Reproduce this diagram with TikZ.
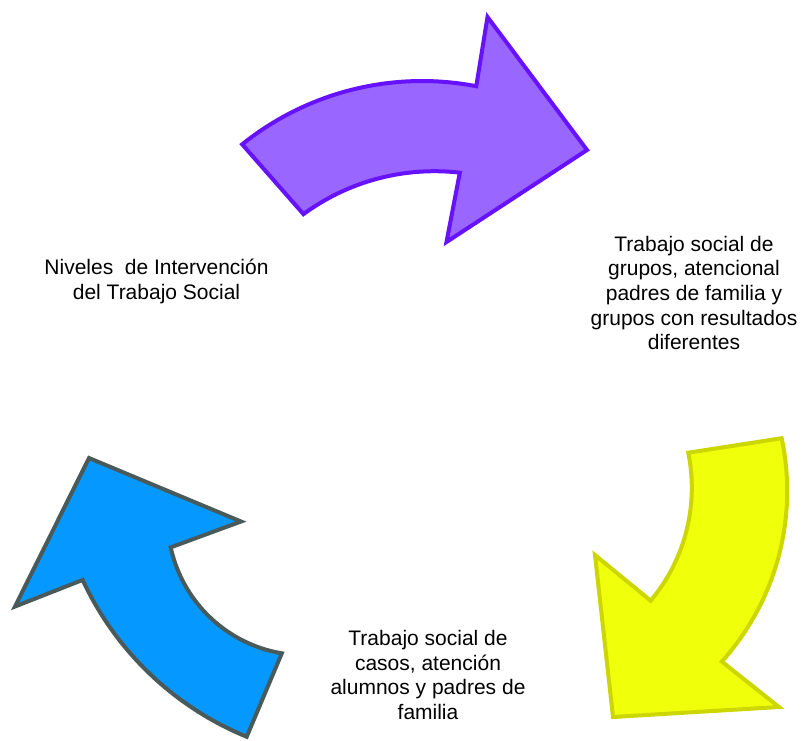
\documentclass[tikz,border=0pt]{standalone}
\usepackage{fontspec}
\setmainfont{Liberation Sans}
\definecolor{purfill}{HTML}{9966FF}
\definecolor{purline}{HTML}{6611FF}
\definecolor{yelfill}{HTML}{F0FF0A}
\definecolor{yelline}{HTML}{CCD600}
\definecolor{blufill}{HTML}{0599FF}
\definecolor{bluline}{HTML}{4A5A5A}
\tikzset{
  arrowshape/.style={line width=4pt, line join=miter, miter limit=10},
  lbl/.style={align=center, inner sep=0pt, font=\fontsize{21}{24.6}\selectfont, text=black}
}
\begin{document}
\begin{tikzpicture}[x=1pt,y=-1pt]
\useasboundingbox (0,0) rectangle (803,740);
% purple arrow (top)
\draw[arrowshape, fill=purfill, draw=purline]
  plot[domain=231.2:280.9, samples=40] ({422+287*cos(\x)}, {368+287*sin(\x)})
  -- (487.5,17) -- (587,150) -- (446.5,242)
  -- plot[domain=276.6:233.7, samples=40] ({434.4+221.2*cos(\x)}, {392.4+221.2*sin(\x)})
  -- cycle;
% yellow arrow (right)
\draw[arrowshape, fill=yelfill, draw=yelline]
  plot[domain=-11.9:41.9, samples=40] ({531.6+255.6*cos(\x)}, {490.9+255.6*sin(\x)})
  -- (779,707) -- (613,717) -- (595,555)
  -- plot[domain=40.07:-11.55, samples=40] ({516.5+175.3*cos(\x)}, {487.8+175.3*sin(\x)})
  -- cycle;
% blue arrow (left)
\draw[arrowshape, fill=blufill, draw=bluline]
  (89,458) -- (241,521.5)
  -- plot[domain=167.7:99.6, samples=40] ({304.65+137.1*cos(\x)}, {518.15+137.1*sin(\x)})
  -- plot[domain=112.3:155.1, samples=40] ({364.7+311*cos(\x)}, {449+311*sin(\x)})
  -- (15,606.5) -- cycle;
% labels
\node[lbl] (niveles) at (156.5,281.5) {Niveles \ de Intervención\\del Trabajo Social};
\node[lbl] (grupos) at (694,292.9) {Trabajo social de\\grupos, atencional\\padres de familia y\\grupos con resultados\\diferentes};
\node[lbl] (casos) at (428,674.9) {Trabajo social de\\casos, atención\\alumnos y padres de\\familia};
\end{tikzpicture}
\end{document}
